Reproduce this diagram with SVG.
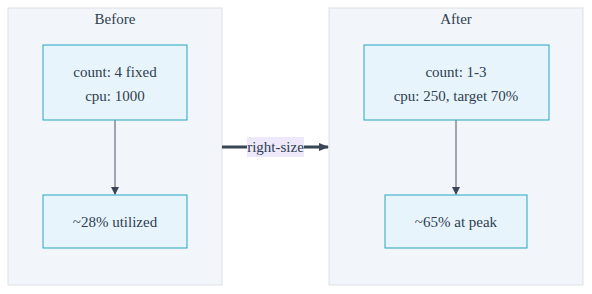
<svg xmlns="http://www.w3.org/2000/svg" width="592" height="294" viewBox="0 0 592 294">
<style>
.cluster{fill:#f2f6fa;stroke:#dcdfe3;stroke-width:1}
.node{fill:#e8f4fb;stroke:#24a5c2;stroke-width:1}
text{font-family:"Liberation Serif","DejaVu Serif",serif;font-size:15px;fill:#2e3e50;text-anchor:middle}
.edge{stroke:#4a5563;stroke-width:1;fill:none}
.thick{stroke:#3a4656;stroke-width:3;fill:none}
</style>
<defs>
<marker id="ah" markerWidth="8" markerHeight="8" refX="7" refY="4" orient="auto" markerUnits="userSpaceOnUse">
<path d="M0,0 L8,4 L0,8 Z" fill="#3a4656"/>
</marker>
<marker id="ah2" markerWidth="10" markerHeight="8" refX="9" refY="4" orient="auto" markerUnits="userSpaceOnUse">
<path d="M0,0 L10,4 L0,8 Z" fill="#3a4656"/>
</marker>
</defs>
<g id="before">
<rect class="cluster" x="8" y="8" width="214" height="277"/>
<text x="115" y="24">Before</text>
</g>
<g id="after">
<rect class="cluster" x="329" y="8" width="254" height="277"/>
<text x="456" y="24">After</text>
</g>
<g id="connectors">
<line class="edge" x1="115" y1="120" x2="115" y2="194" marker-end="url(#ah)"/>
<line class="edge" x1="456" y1="120" x2="456" y2="194" marker-end="url(#ah)"/>
<line class="thick" x1="222" y1="147" x2="328" y2="147" marker-end="url(#ah2)"/>
<rect x="247" y="137" width="57" height="20" fill="#ede9fa"/>
<text x="275.5" y="152">right-size</text>
</g>
<g id="before-config">
<rect class="node" x="43" y="45" width="144" height="75"/>
<text x="115" y="77">count: 4 fixed</text>
<text x="115" y="101">cpu: 1000</text>
</g>
<g id="before-util">
<rect class="node" x="43" y="195" width="144" height="53"/>
<text x="115" y="227">~28% utilized</text>
</g>
<g id="after-config">
<rect class="node" x="364" y="45" width="185" height="75"/>
<text x="456" y="77">count: 1-3</text>
<text x="456" y="101">cpu: 250, target 70%</text>
</g>
<g id="after-util">
<rect class="node" x="385" y="195" width="142" height="53"/>
<text x="456" y="227">~65% at peak</text>
</g>
</svg>
